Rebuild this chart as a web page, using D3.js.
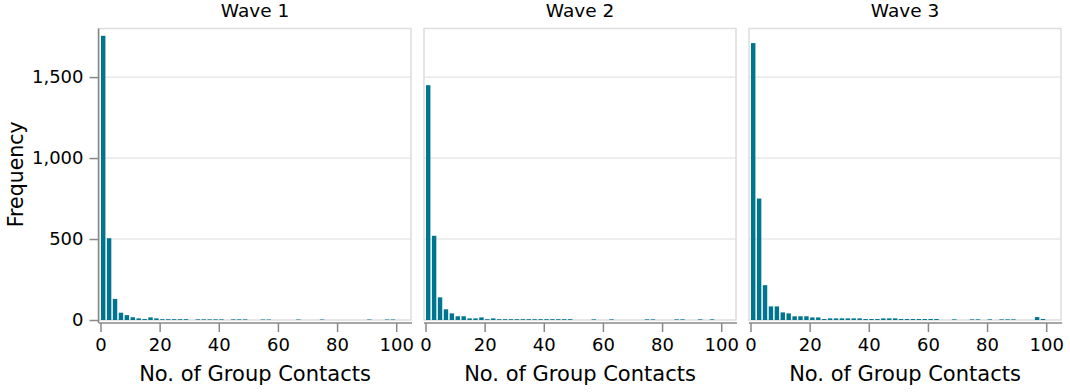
<!DOCTYPE html>
<html>
<head>
<meta charset="utf-8">
<script src="https://cdn.jsdelivr.net/npm/d3@7"></script>
<style>
  body { margin: 0; background: #fff; }
  svg { display: block; font-family: "DejaVu Sans", Verdana, sans-serif; }
</style>
</head>
<body>
<svg id="chart" width="1070" height="392"></svg>
<script>
// Bins of 2 contacts each: [0,2), [2,4), ... [98,100)
var binStart = d3.range(0, 100, 2);

var waves = ["Wave 1", "Wave 2", "Wave 3"];

var wave1 = [1755, 505, 130, 45, 30, 17, 10, 6, 16, 10,
  5, 5, 5, 5, 5, 0, 4, 4, 4, 4,
  4, 0, 4, 4, 4, 0, 0, 3, 3, 0,
  0, 0, 0, 3, 0, 0, 0, 3, 0, 0,
  0, 0, 0, 0, 0, 3, 0, 0, 3, 3];

var wave2 = [1450, 520, 140, 66, 41, 23, 23, 10, 10, 16,
  5, 10, 5, 5, 5, 5, 5, 5, 5, 5,
  5, 5, 5, 5, 5, 0, 0, 0, 4, 0,
  0, 4, 0, 0, 0, 0, 0, 4, 4, 0,
  0, 0, 4, 4, 0, 0, 4, 0, 4, 0];

var wave3 = [1710, 750, 215, 84, 84, 47, 41, 23, 23, 23,
  16, 16, 6, 10, 10, 10, 10, 10, 10, 6,
  6, 6, 10, 10, 10, 6, 6, 6, 6, 6,
  6, 6, 0, 0, 4, 0, 0, 4, 4, 0,
  4, 0, 4, 4, 4, 0, 0, 0, 18, 6];

var waveValues = [wave1, wave2, wave3];
var xTicks = [0, 20, 40, 60, 80, 100];
var yTicks = [0, 500, 1000, 1500];

var svg = d3.select("#chart");
svg.append("rect").attr("width", 1070).attr("height", 392).attr("fill", "#fff");

var panel_left = [99, 424, 749],
  panel_w = 312,
  plot_top = 28.5,
  plot_bottom = 320,
  barColor = "#00758f",
  font = '"DejaVu Sans", Verdana, sans-serif';

var x = d3.scaleLinear().domain([0, 105]).range([1.5, panel_w]);
var y = d3.scaleLinear().domain([0, 1800]).range([plot_bottom, plot_top]);

waves.forEach(function(name, i) {
  var g = svg.append("g").attr("transform", "translate(" + panel_left[i] + ",0)");

  // grid
  g.append("g").selectAll("line")
    .data(yTicks.filter(function(d) { return d > 0; }))
    .enter().append("line")
    .attr("x1", 0).attr("x2", panel_w)
    .attr("y1", function(d) { return y(d); })
    .attr("y2", function(d) { return y(d); })
    .attr("stroke", "#ddd").attr("stroke-width", 1);

  // frame
  g.append("rect")
    .attr("x", 0).attr("y", plot_top)
    .attr("width", panel_w).attr("height", plot_bottom - plot_top)
    .attr("fill", "none").attr("stroke", "#ddd").attr("stroke-width", 1.5);

  // bars
  var vals = waveValues[i];
  g.append("g").selectAll("rect")
    .data(binStart.map(function(b, k) { return {b: b, v: vals[k]}; }).filter(function(d) { return d.v > 0; }))
    .enter().append("rect")
    .attr("x", function(d) { return x(d.b) + 0.5; })
    .attr("width", function(d) { return x(d.b + 2) - x(d.b) - 1.5; })
    .attr("y", function(d) { return y(d.v); })
    .attr("height", function(d) { return y(0) - y(d.v); })
    .attr("fill", barColor);

  // title
  g.append("text")
    .attr("x", panel_w / 2).attr("y", 17)
    .attr("text-anchor", "middle")
    .style("font-size", "18.5px")
    .text(name);

  // x axis
  var xa = g.append("g")
    .attr("transform", "translate(0," + (plot_bottom + 3) + ")")
    .call(d3.axisBottom(x).tickValues(xTicks).tickSize(9).tickPadding(6).tickSizeOuter(0))
    .attr("font-family", font).attr("font-size", 18);
  xa.select(".domain").remove();
  xa.append("line").attr("x1", 0).attr("x2", panel_w + 1).attr("stroke", "#888").attr("stroke-width", 1.5);
  xa.selectAll(".tick line").attr("stroke", "#888").attr("stroke-width", 1.5);
  xa.selectAll(".tick text").attr("fill", "#000");

  g.append("text")
    .attr("x", panel_w / 2).attr("y", 381)
    .attr("text-anchor", "middle")
    .style("font-size", "21px")
    .text("No. of Group Contacts");

  if (i === 0) {
    var ya = g.append("g")
      .attr("transform", "translate(-0.5,0)")
      .call(d3.axisLeft(y).tickValues(yTicks).tickSize(9).tickPadding(6).tickSizeOuter(0).tickFormat(d3.format(",")))
      .attr("font-family", font).attr("font-size", 18);
    ya.select(".domain").remove();
    ya.append("line").attr("y1", plot_top).attr("y2", plot_bottom + 3).attr("stroke", "#888").attr("stroke-width", 1.5);
    ya.selectAll(".tick line").attr("stroke", "#888").attr("stroke-width", 1.5);
    ya.selectAll(".tick text").attr("fill", "#000");

    g.append("text")
      .attr("transform", "translate(" + (23 - panel_left[0]) + "," + ((plot_top + plot_bottom) / 2) + ") rotate(-90)")
      .attr("text-anchor", "middle")
      .style("font-size", "20.5px")
      .text("Frequency");
  }
});
</script>
</body>
</html>
